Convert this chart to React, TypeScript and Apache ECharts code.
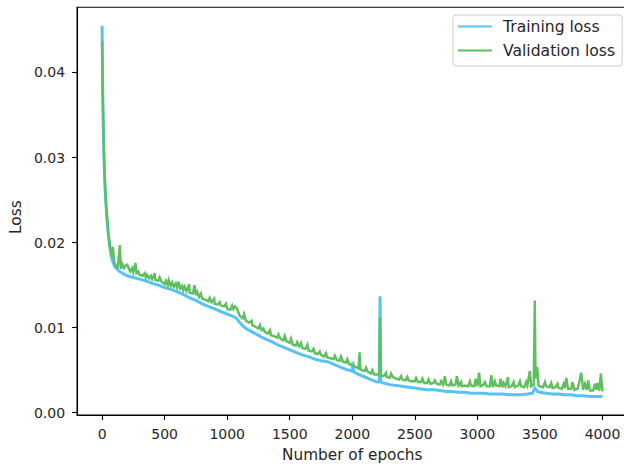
import React, { useEffect, useRef } from "react";
import * as echarts from "echarts";

// ---- Data ----
const xTickValues = [0, 500, 1000, 1500, 2000, 2500, 3000, 3500, 4000];
const yTickValues = [0, 0.01, 0.02, 0.03, 0.04];
const seriesNames = ["Training loss", "Validation loss"];

const trainingLoss: [number, number][] = [
  [0, 0.0455], [3, 0.0405], [6, 0.0368], [10, 0.0335], [15, 0.0302], [20, 0.0278],
  [25, 0.026], [30, 0.0247], [40, 0.0226], [50, 0.0209], [60, 0.0196], [70, 0.0187],
  [80, 0.018], [100, 0.0172], [125, 0.0168], [150, 0.0165], [200, 0.0161], [250, 0.0159],
  [300, 0.0157], [350, 0.0155], [400, 0.0152], [450, 0.015], [500, 0.0147], [550, 0.0145],
  [600, 0.0142], [650, 0.0139], [700, 0.0135], [750, 0.0132], [800, 0.0128], [850, 0.0125],
  [900, 0.0122], [950, 0.0119], [1000, 0.0116], [1050, 0.0113], [1075, 0.0111], [1100, 0.0106],
  [1125, 0.0102], [1150, 0.0099], [1200, 0.0095], [1250, 0.0091], [1300, 0.0087], [1350, 0.0084],
  [1400, 0.008], [1450, 0.0077], [1500, 0.0074], [1550, 0.0071], [1600, 0.0068], [1650, 0.0066],
  [1700, 0.0063], [1750, 0.0061], [1800, 0.006], [1850, 0.0057], [1900, 0.0054], [1950, 0.0051],
  [2000, 0.0049], [2005, 0.006], [2010, 0.0048], [2050, 0.0045], [2100, 0.0042], [2150, 0.0039],
  [2200, 0.0036], [2215, 0.0036], [2222, 0.0137], [2228, 0.0036], [2250, 0.0035], [2300, 0.0033],
  [2350, 0.0032], [2400, 0.0031], [2450, 0.003], [2500, 0.0029], [2550, 0.0028], [2600, 0.0027],
  [2650, 0.0027], [2700, 0.0026], [2750, 0.0025], [2800, 0.0025], [2850, 0.0024], [2900, 0.0024],
  [2950, 0.0023], [3000, 0.0023], [3050, 0.0023], [3100, 0.0022], [3150, 0.0022], [3200, 0.0022],
  [3250, 0.0021], [3300, 0.0021], [3350, 0.0021], [3400, 0.0022], [3440, 0.0023], [3459, 0.0029],
  [3480, 0.0025], [3500, 0.0024], [3550, 0.0023], [3600, 0.0022], [3650, 0.0022], [3700, 0.0021],
  [3750, 0.0021], [3800, 0.002], [3850, 0.002], [3900, 0.0019], [3950, 0.0019], [4000, 0.0019],
];

const validationLoss: [number, number][] = [
  [0, 0.0437], [3, 0.04], [6, 0.0365], [10, 0.0335], [15, 0.0303], [20, 0.028], [25, 0.0262],
  [30, 0.0249], [40, 0.0229], [50, 0.0212], [60, 0.0199], [70, 0.019], [80, 0.0183], [87, 0.0195],
  [95, 0.0178], [100, 0.0176], [112, 0.0172], [125, 0.0171], [142, 0.0197], [150, 0.0169],
  [160, 0.0175], [175, 0.017], [185, 0.0173], [200, 0.0174], [225, 0.0166], [240, 0.017],
  [250, 0.0165], [267, 0.0176], [275, 0.0164], [290, 0.0166], [300, 0.0162], [325, 0.0161],
  [341, 0.0164], [350, 0.0159], [360, 0.0162], [375, 0.0158], [390, 0.0161], [400, 0.0157],
  [421, 0.0164], [425, 0.0156], [450, 0.0155], [460, 0.0159], [475, 0.0154], [500, 0.0151],
  [510, 0.0155], [525, 0.015], [532, 0.0156], [550, 0.0149], [560, 0.0153], [575, 0.0148],
  [590, 0.0152], [600, 0.0147], [612, 0.0154], [625, 0.0146], [640, 0.0149], [650, 0.0144],
  [660, 0.0148], [675, 0.0143], [697, 0.0151], [700, 0.0141], [725, 0.014], [739, 0.015],
  [750, 0.0138], [760, 0.0142], [775, 0.0136], [790, 0.014], [800, 0.0134], [825, 0.0133],
  [850, 0.0131], [860, 0.0135], [875, 0.013], [896, 0.0134], [900, 0.0128], [925, 0.0127],
  [940, 0.013], [950, 0.0126], [975, 0.0125], [990, 0.0128], [1000, 0.0122], [1025, 0.0121],
  [1040, 0.0126], [1050, 0.0122], [1060, 0.0125], [1076, 0.0123], [1100, 0.0114], [1125, 0.0111],
  [1135, 0.0116], [1150, 0.0108], [1175, 0.0106], [1196, 0.0108], [1200, 0.0103], [1225, 0.0101],
  [1250, 0.0099], [1262, 0.0103], [1275, 0.0097], [1290, 0.0099], [1300, 0.0095], [1325, 0.0093],
  [1342, 0.0097], [1350, 0.0091], [1375, 0.009], [1400, 0.0088], [1410, 0.0092], [1425, 0.0087],
  [1450, 0.0085], [1460, 0.009], [1475, 0.0084], [1500, 0.0082], [1510, 0.0087], [1525, 0.008],
  [1550, 0.0079], [1560, 0.0083], [1575, 0.0078], [1590, 0.0082], [1600, 0.0076], [1625, 0.0075],
  [1641, 0.008], [1650, 0.0073], [1675, 0.0072], [1690, 0.0075], [1700, 0.007], [1725, 0.0069],
  [1740, 0.0072], [1750, 0.0068], [1775, 0.0066], [1790, 0.007], [1800, 0.0065], [1825, 0.0064],
  [1850, 0.0063], [1860, 0.0067], [1875, 0.0062], [1900, 0.0061], [1910, 0.0066], [1925, 0.006],
  [1950, 0.0059], [1960, 0.0063], [1975, 0.0057], [2000, 0.0056], [2025, 0.0054], [2050, 0.0052],
  [2058, 0.0071], [2065, 0.0051], [2075, 0.005], [2100, 0.0049], [2110, 0.0053], [2125, 0.0048],
  [2150, 0.0046], [2160, 0.005], [2175, 0.0045], [2200, 0.0045], [2215, 0.0044], [2222, 0.0112],
  [2228, 0.0044], [2250, 0.0043], [2270, 0.0047], [2275, 0.0042], [2300, 0.0041], [2310, 0.0046],
  [2325, 0.0042], [2350, 0.004], [2375, 0.0039], [2390, 0.0043], [2400, 0.0039], [2425, 0.0038],
  [2440, 0.0042], [2450, 0.0038], [2475, 0.0037], [2500, 0.0037], [2510, 0.0041], [2525, 0.0036],
  [2550, 0.0036], [2560, 0.004], [2575, 0.0035], [2600, 0.0035], [2610, 0.0039], [2625, 0.0034],
  [2650, 0.0035], [2660, 0.0038], [2675, 0.0034], [2700, 0.0033], [2710, 0.0037], [2725, 0.0033],
  [2740, 0.0043], [2750, 0.0033], [2775, 0.0032], [2790, 0.0037], [2800, 0.0032], [2825, 0.0033],
  [2836, 0.0043], [2850, 0.0032], [2870, 0.0036], [2875, 0.0031], [2900, 0.0032], [2925, 0.0031],
  [2940, 0.0037], [2950, 0.0032], [2975, 0.0031], [2987, 0.004], [3000, 0.0031], [3013, 0.0047],
  [3025, 0.0031], [3050, 0.0033], [3060, 0.0036], [3075, 0.0031], [3100, 0.0031], [3111, 0.0044],
  [3125, 0.003], [3140, 0.0037], [3150, 0.0032], [3175, 0.0031], [3185, 0.004], [3200, 0.003],
  [3210, 0.0035], [3225, 0.0031], [3244, 0.0042], [3250, 0.003], [3275, 0.0031], [3290, 0.0036],
  [3300, 0.003], [3325, 0.0032], [3340, 0.0037], [3350, 0.0031], [3375, 0.003], [3390, 0.0036],
  [3400, 0.0032], [3419, 0.0049], [3430, 0.0031], [3450, 0.0033], [3459, 0.0132], [3465, 0.004],
  [3478, 0.0054], [3490, 0.0032], [3500, 0.0031], [3525, 0.003], [3540, 0.0036], [3550, 0.0031],
  [3575, 0.003], [3590, 0.0035], [3600, 0.0029], [3625, 0.003], [3640, 0.0034], [3650, 0.0029],
  [3675, 0.0028], [3690, 0.0034], [3700, 0.0029], [3711, 0.0041], [3725, 0.0028], [3750, 0.0028],
  [3760, 0.0036], [3775, 0.0027], [3800, 0.0028], [3810, 0.0033], [3830, 0.0047], [3845, 0.0027],
  [3860, 0.0034], [3875, 0.0027], [3886, 0.0038], [3900, 0.0026], [3925, 0.0026], [3940, 0.0034],
  [3950, 0.0027], [3960, 0.0035], [3975, 0.0026], [3987, 0.0046], [4000, 0.0025],
];

const FONT = "DejaVu Sans";
const TEXT = "#262626";
const BLUE = "#55c3f5";
const GREEN = "#5dbf5d";

export default function App() {
  const ref = useRef<HTMLDivElement>(null);

  useEffect(() => {
    if (!ref.current) return;
    const chart = echarts.init(ref.current, null, { renderer: "svg" });
    chart.setOption({
      animation: false,
      backgroundColor: "#ffffff",
      textStyle: { fontFamily: FONT, color: TEXT },
      grid: {
        left: 75,
        top: 7.3,
        right: 4.5,
        bottom: 49,
        containLabel: false,
        show: true,
        borderColor: "#000",
        borderWidth: 1.1,
        backgroundColor: "transparent",
      },
      legend: {
        data: seriesNames,
        orient: "vertical",
        left: 453,
        top: 15,
        padding: [3, 7, 7, 5],
        itemGap: 7,
        itemWidth: 34,
        itemHeight: 2,
        icon: "rect",
        backgroundColor: "rgba(255,255,255,0.8)",
        borderColor: "#cccccc",
        borderWidth: 1,
        borderRadius: 3,
        textStyle: {
          fontFamily: FONT,
          fontSize: 15.6,
          color: TEXT,
          lineHeight: 17,
          padding: [0, 0, 0, 6],
        },
      },
      xAxis: {
        type: "value",
        min: -200,
        max: 4200,
        name: "Number of epochs",
        nameLocation: "middle",
        nameGap: 32,
        nameTextStyle: { fontFamily: FONT, fontSize: 15.3, color: TEXT },
        axisLine: { show: true, onZero: false, lineStyle: { color: "#000", width: 1.1 } },
        axisTick: {
          show: true,
          length: 5,
          customValues: xTickValues,
          lineStyle: { color: "#000", width: 1.1 },
        },
        axisLabel: {
          customValues: xTickValues,
          margin: 12,
          fontFamily: FONT,
          fontSize: 14,
          color: TEXT,
          formatter: (v: number) => String(v),
        },
        splitLine: { show: false },
      },
      yAxis: {
        type: "value",
        min: -0.000268,
        max: 0.04766,
        name: "Loss",
        nameLocation: "middle",
        nameGap: 51,
        nameTextStyle: { fontFamily: FONT, fontSize: 15.3, color: TEXT, padding: [0, 12, 0, 0] },
        axisLine: { show: true, onZero: false, lineStyle: { color: "#000", width: 1.1 } },
        axisTick: {
          show: true,
          length: 5,
          customValues: yTickValues,
          lineStyle: { color: "#000", width: 1.1 },
        },
        axisLabel: {
          customValues: yTickValues,
          margin: 12,
          fontFamily: FONT,
          fontSize: 14,
          color: TEXT,
          formatter: (v: number) => v.toFixed(2),
        },
        splitLine: { show: false },
      },
      series: [
        {
          name: seriesNames[0],
          type: "line",
          data: trainingLoss,
          showSymbol: false,
          symbol: "none",
          color: BLUE,
          lineStyle: { color: BLUE, width: 3, join: "miter" },
          z: 2,
        },
        {
          name: seriesNames[1],
          type: "line",
          data: validationLoss,
          showSymbol: false,
          symbol: "none",
          color: GREEN,
          lineStyle: { color: GREEN, width: 2.4, join: "miter" },
          z: 3,
        },
      ],
    });
    return () => chart.dispose();
  }, []);

  return (
    <div
      style={{
        position: "fixed",
        left: 0,
        top: 0,
        width: 624,
        height: 467,
        overflow: "hidden",
        background: "#fff",
      }}
    >
      <div ref={ref} style={{ width: 632, height: 467 }} />
    </div>
  );
}
